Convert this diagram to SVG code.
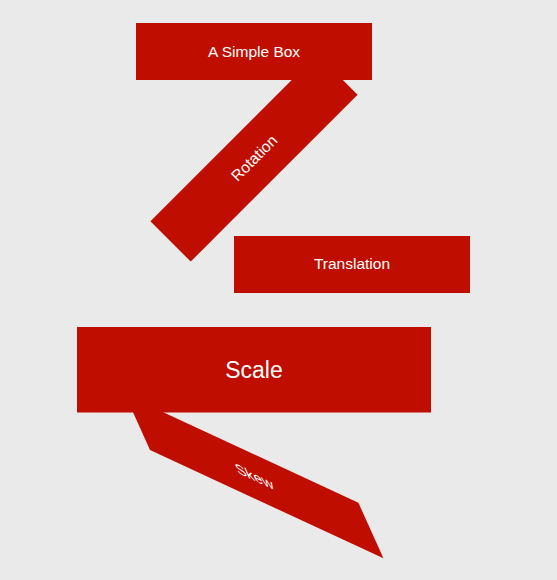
<svg xmlns="http://www.w3.org/2000/svg" width="557" height="580" viewBox="0 0 557 580">
  <style>
    .box { fill: #BF0D00; }
    .lbl { fill: #FFFFFF; font-family: "Liberation Sans", Arial, sans-serif; font-size: 15.5px; text-anchor: middle; }
    .big { font-size: 23px; }
  </style>
  <rect x="0" y="0" width="557" height="580" fill="#EAEAEA"/>
  <g id="connectors"></g>
  <g id="rotation" transform="rotate(-45 254 158)">
    <rect class="box" x="136" y="129.5" width="236" height="57"/>
    <text class="lbl" x="254" y="163.5">Rotation</text>
  </g>
  <g id="simple-box">
    <rect class="box" x="136" y="23" width="236" height="57"/>
    <text class="lbl" x="254" y="57">A Simple Box</text>
  </g>
  <g id="translation">
    <rect class="box" x="234" y="236" width="236" height="57"/>
    <text class="lbl" x="352" y="269">Translation</text>
  </g>
  <g id="skew" transform="matrix(0.989 0.459 0.439 0.975 125 394.4)">
    <rect class="box" x="0" y="0" width="236" height="57"/>
    <text class="lbl" x="118" y="34">Skew</text>
  </g>
  <g id="scale">
    <rect class="box" x="77" y="327" width="354" height="85.5"/>
    <text class="lbl big" x="254" y="378">Scale</text>
  </g>
</svg>
